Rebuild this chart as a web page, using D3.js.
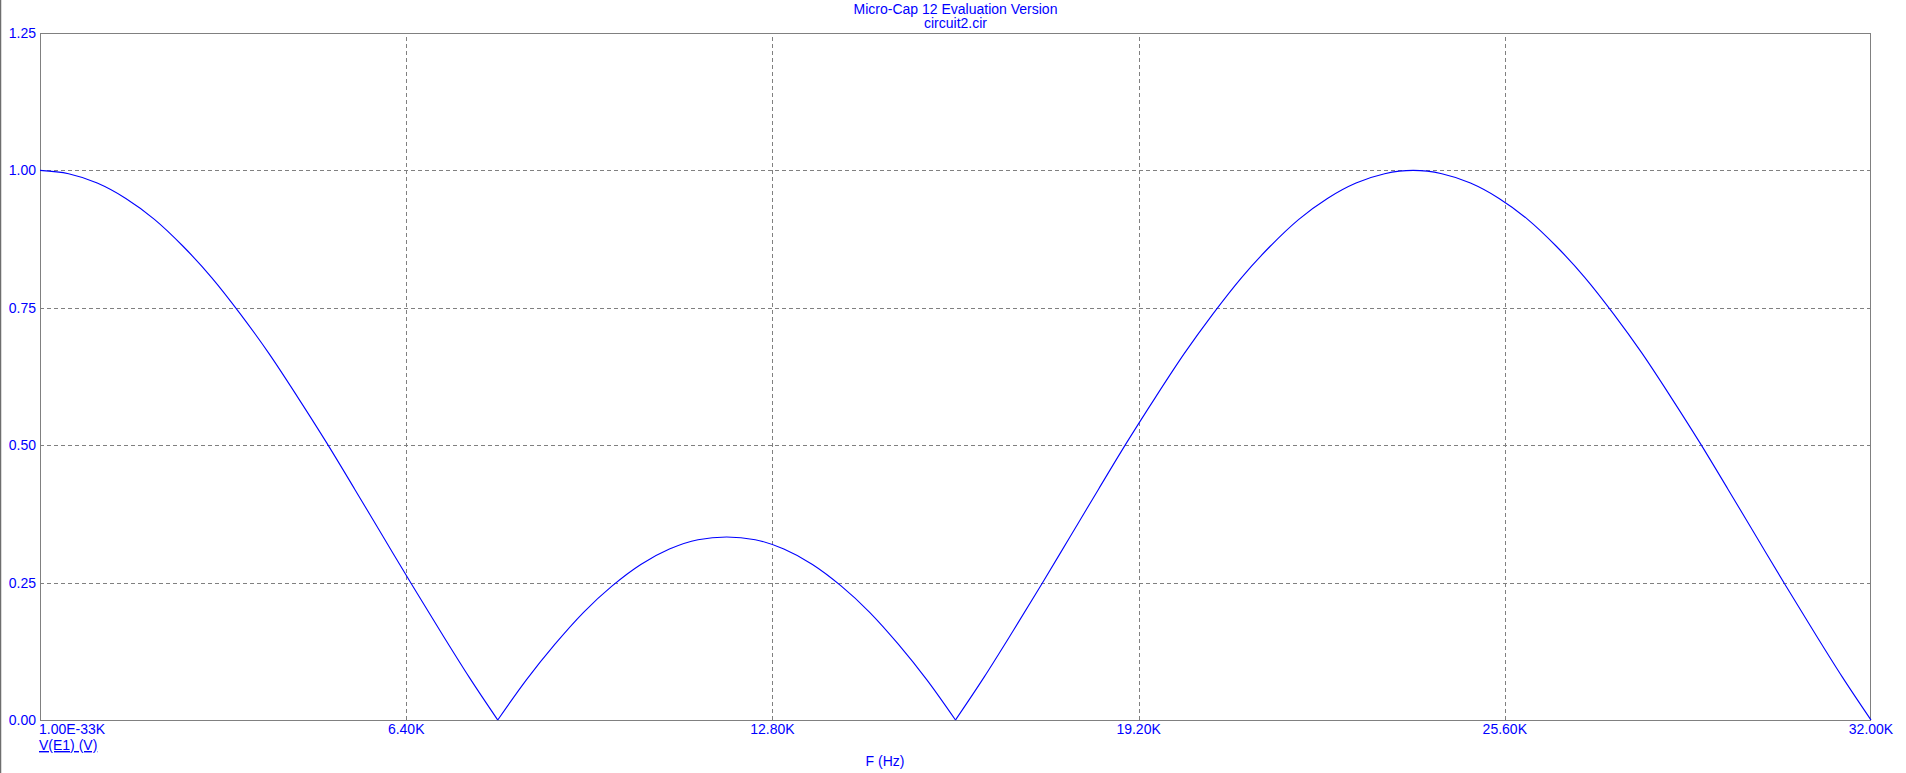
<!DOCTYPE html>
<html><head><meta charset="utf-8">
<script src="https://cdn.jsdelivr.net/npm/d3@7"></script>
<style>
html,body{margin:0;padding:0;background:#fff;overflow:hidden;}
svg{display:block;}
text{font-family:"Liberation Sans",Arial,sans-serif;fill:#0000ff;}
</style></head>
<body>
<script>
// Frequency in kHz
const freqK = [0,0.5,1,1.5,2,2.5,3,3.5,4,4.5,5,5.5,6,6.5,7,7.5,8,8.5,9,9.5,10,10.5,11,11.5,12,12.5,13,13.5,14,14.5,15,15.5,16,16.5,17,17.5,18,18.5,19,19.5,20,20.5,21,21.5,22,22.5,23,23.5,24,24.5,25,25.5,26,26.5,27,27.5,28,28.5,29,29.5,30,30.5,31,31.5,32];
// V(E1) (V)
const vE1 = [1.000,0.994,0.977,0.949,0.911,0.862,0.805,0.739,0.667,0.588,0.506,0.420,0.333,0.246,0.161,0.078,0.000,0.073,0.138,0.196,0.244,0.283,0.311,0.328,0.333,0.328,0.311,0.283,0.244,0.196,0.138,0.073,0.000,0.078,0.161,0.246,0.333,0.420,0.506,0.588,0.667,0.739,0.805,0.862,0.911,0.949,0.977,0.994,1.000,0.994,0.977,0.949,0.911,0.862,0.805,0.739,0.667,0.588,0.506,0.420,0.333,0.246,0.161,0.078,0.000];
const xTicks = [0,6.4,12.8,19.2,25.6,32];
const xTickLabels = ["1.00E-33K","6.40K","12.80K","19.20K","25.60K","32.00K"];
const yTicks = [0,0.25,0.5,0.75,1.0,1.25];
const yTickLabels = ["0.00","0.25","0.50","0.75","1.00","1.25"];
const titleLines = ["Micro-Cap 12 Evaluation Version","circuit2.cir"];
const xLabel = "F (Hz)";
const yLabel = "V(E1) (V)";

const W = 1906, H = 773;
const L = 40, R = 1871, T = 33, B = 720;
const FS = 14;
const svg = d3.select("body").append("svg").attr("width", W).attr("height", H);

const x = d3.scaleLinear().domain([0,32]).range([L,R]);
const y = d3.scaleLinear().domain([0,1.25]).range([B,T]);

// left window border
svg.append("line").attr("x1",0.5).attr("x2",0.5).attr("y1",0).attr("y2",H)
  .attr("stroke","#6e6e6e").attr("stroke-width",1.5);

// grid
const gx = svg.append("g").attr("transform",`translate(0,${B})`)
  .call(d3.axisBottom(x).tickValues(xTicks.slice(1,-1)).tickSize(-(B-T)).tickFormat(""));
const gy = svg.append("g").attr("transform",`translate(${L},0)`)
  .call(d3.axisLeft(y).tickValues(yTicks.slice(1,-1)).tickSize(-(R-L)).tickFormat(""));
[gx,gy].forEach(g=>{
  g.select(".domain").remove();
  g.selectAll("line").attr("stroke","#808080").attr("stroke-dasharray","4,3").attr("shape-rendering","crispEdges");
});

// frame
svg.append("rect").attr("x",L+0.5).attr("y",T+0.5).attr("width",R-L-1).attr("height",B-T)
  .attr("fill","none").attr("stroke","#808080").attr("stroke-width",1).attr("shape-rendering","crispEdges");

// curve: split into lobes at the zero points so cusps stay sharp
const pts = freqK.map((f,i)=>[f, vE1[i]]);
const lobes = [];
let cur = [];
pts.forEach((p,i)=>{
  cur.push(p);
  if (p[1] === 0 && i > 0) { lobes.push(cur); cur = [p]; }
});
if (cur.length > 1) lobes.push(cur);
const line = d3.line().x(d=>x(d[0])).y(d=>y(d[1])).curve(d3.curveMonotoneX);
svg.append("g").selectAll("path").data(lobes).join("path").attr("d",line).attr("fill","none")
  .attr("stroke","#0000ff").attr("stroke-width",1.1);

// y tick labels
svg.append("g").selectAll("text").data(yTicks).join("text")
  .attr("x",L-4).attr("y",d=>y(d)+5).attr("text-anchor","end")
  .attr("font-size",FS).text((d,i)=>yTickLabels[i]);

// x tick labels
svg.append("g").selectAll("text").data(xTicks).join("text")
  .attr("x",(d,i)=> i===0 ? L-1 : x(d))
  .attr("y",B+14).attr("text-anchor",(d,i)=> i===0 ? "start" : "middle")
  .attr("font-size",FS).text((d,i)=>xTickLabels[i]);

// titles
svg.append("text").attr("x",(L+R)/2).attr("y",14).attr("text-anchor","middle").attr("font-size",FS).text(titleLines[0]);
svg.append("text").attr("x",(L+R)/2).attr("y",28).attr("text-anchor","middle").attr("font-size",FS).text(titleLines[1]);

// y label (underlined, bottom-left)
svg.append("text").attr("x",L-1).attr("y",750).attr("font-size",FS)
  .attr("text-decoration","underline").text(yLabel);

// x label
svg.append("text").attr("x",885).attr("y",766).attr("text-anchor","middle").attr("font-size",FS).text(xLabel);
</script>
</body></html>
